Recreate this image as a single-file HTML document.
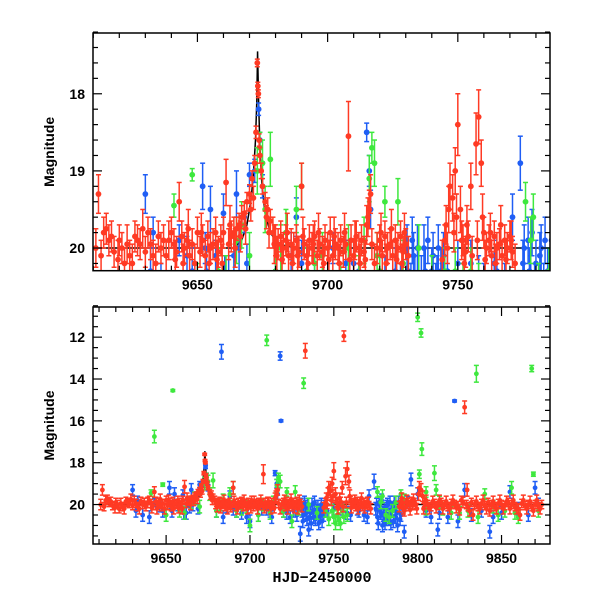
<!DOCTYPE html>
<html><head><meta charset="utf-8"><style>
html,body{margin:0;padding:0;background:#fff}
svg{display:block}
text{font-family:"Liberation Sans",Helvetica,sans-serif;font-weight:bold;font-size:14px;fill:#000}
</style></head><body>
<svg id="chart" width="600" height="600" viewBox="0 0 600 600" xmlns="http://www.w3.org/2000/svg">
<defs>
<clipPath id="clipTop"><rect x="93" y="33" width="457" height="237.7"/></clipPath>
<clipPath id="clipBot"><rect x="93" y="307" width="457" height="237"/></clipPath>
</defs>
<g id="top"></g>
<g id="bot"></g>
<text x="322" y="582" text-anchor="middle" style="font-family:'Liberation Mono',monospace;font-size:15px">HJD−2450000</text>
</svg>
<script>
const redT=[9611,9612,9613,9614,9615,9616,9617,9618,9620,9621,9622,9624,9626,9627,9628,9630,9631,9632,9633,9635,9636,9637,9638,9640,9641,9642,9643,9644,9645,9646,9647,9648,9650,9651,9652,9653,9654,9655,9656,9657,9658,9659,9660,9661,9662,9663,9664,9665,9666,9667,9668,9669,9670,9671,9672,9672.5,9673,9673.2,9673.4,9673.7,9674,9674.5,9675,9676,9677,9678,9679,9680,9681,9682,9683,9684,9685,9686,9687,9688,9689,9690,9691,9692,9693,9694,9695,9696,9697,9698,9699,9700,9701,9702,9703,9704,9705,9706,9707,9708,9709,9710,9711,9712,9713,9714,9715,9716,9717,9719,9720,9721,9722,9723,9724,9725,9726,9727,9728,9729,9730,9733,9745,9746,9747,9748,9749,9750,9751,9752,9753,9754,9755,9756,9757,9758,9759,9760,9761,9762,9763,9764,9765,9766,9767,9768,9769,9770,9771,9790,9791,9792,9793,9794,9795,9796,9797,9798,9799,9801,9803,9804,9806,9808,9810,9812,9814,9816,9818,9820,9822,9824,9826,9828,9829,9830,9832,9834,9836,9838,9840,9842,9844,9846,9848,9850,9852,9854,9856,9858,9860,9862,9864,9866,9868,9870,9872,9874];
const redM=[20.0,19.3,20.1,19.8,19.75,19.9,19.85,20.05,19.9,20.0,20.2,20.1,19.85,19.9,19.95,20.05,19.8,19.95,20.1,19.85,20.0,19.9,20.1,19.8,19.95,20.05,19.4,19.85,20.0,19.9,20.1,19.95,19.8,20.05,19.9,20.1,19.85,20.0,19.95,19.8,20.05,19.9,19.8,19.15,19.95,19.85,19.8,19.75,19.7,19.6,19.55,19.4,19.3,19.1,18.9,18.5,17.6,17.9,18.0,18.6,18.8,19.0,19.2,19.4,19.5,19.65,19.8,19.9,19.95,19.85,20.0,19.9,20.1,19.95,20.0,19.9,20.05,19.2,19.95,20.1,19.9,20.0,19.85,20.1,19.95,20.05,19.9,20.0,19.8,20.1,19.95,20.0,19.9,20.05,19.95,18.55,19.9,20.1,19.85,20.0,19.9,20.05,19.7,19.5,19.95,20.0,19.9,20.1,19.85,20.0,19.95,20.1,19.9,20.0,19.85,20.05,19.95,12.65,19.9,20.0,19.2,19.35,19.0,18.4,19.5,19.9,20.05,19.85,19.2,11.95,18.65,18.3,18.9,19.8,20.0,19.9,20.1,19.85,20.0,19.95,20.1,19.9,20.0,19.85,20.05,20.0,19.9,20.3,20.1,19.9,20.0,19.85,20.05,19.9,20.0,19.2,19.6,19.9,20.0,20.1,19.95,20.05,19.9,20.0,20.1,19.95,20.0,20.05,19.8,15.35,20.0,20.1,19.9,20.0,20.1,19.95,20.05,19.9,20.0,20.1,19.95,20.0,20.05,19.9,20.0,20.1,20.2,19.95,20.05,20.0,20.1,20.0,20.1,20.0];
const redE=[0.25,0.25,0.2,0.2,0.2,0.2,0.2,0.2,0.2,0.2,0.2,0.2,0.2,0.2,0.2,0.2,0.2,0.2,0.2,0.2,0.2,0.2,0.2,0.2,0.2,0.2,0.25,0.2,0.2,0.2,0.2,0.2,0.2,0.2,0.2,0.2,0.2,0.2,0.2,0.2,0.2,0.2,0.2,0.3,0.2,0.2,0.2,0.15,0.15,0.15,0.15,0.12,0.12,0.1,0.1,0.08,0.05,0.05,0.05,0.08,0.1,0.1,0.1,0.12,0.15,0.15,0.2,0.2,0.2,0.2,0.2,0.2,0.2,0.2,0.2,0.2,0.2,0.3,0.2,0.2,0.2,0.2,0.2,0.2,0.2,0.2,0.2,0.2,0.2,0.2,0.2,0.2,0.2,0.2,0.2,0.45,0.2,0.2,0.2,0.2,0.2,0.2,0.25,0.25,0.2,0.2,0.2,0.2,0.2,0.2,0.2,0.2,0.2,0.2,0.2,0.2,0.2,0.35,0.2,0.2,0.3,0.3,0.3,0.4,0.3,0.2,0.2,0.2,0.3,0.25,0.4,0.35,0.3,0.2,0.2,0.2,0.2,0.2,0.2,0.2,0.2,0.2,0.2,0.2,0.2,0.2,0.2,0.25,0.2,0.2,0.2,0.2,0.2,0.2,0.2,0.3,0.25,0.2,0.2,0.2,0.2,0.2,0.2,0.2,0.2,0.2,0.2,0.2,0.2,0.3,0.2,0.2,0.2,0.2,0.2,0.2,0.2,0.2,0.2,0.2,0.2,0.2,0.2,0.2,0.2,0.2,0.2,0.2,0.2,0.2,0.2,0.2,0.2,0.2];
const red2T=[9619.5,9623,9625,9629,9634,9639,9641.5,9644.5,9646.5,9649,9651.5,9654.5,9657.5,9659.5,9662.5,9664.5,9666.5,9668.5,9670.5,9671.5,9676.5,9677.5,9679.5,9680.5,9682.5,9684.5,9686.5,9688.5,9690.5,9692.5,9694.5,9696.5,9698.5,9700.5,9702.5,9704.5,9706.5,9708.5,9710.5,9712.5,9714.5,9715.5,9716.5,9718,9720.5,9722.5,9724.5,9726.5,9728.5,9729.5,9731,9744,9745.5,9746.5,9748.5,9749.5,9751.5,9752.5,9753.5,9755.5,9757.5,9759.5,9760.5,9762.5,9764.5,9766.5,9768.5,9770.5,9772,9789,9790.5,9791.5,9793.5,9795.5,9797.5,9799.5,9800.5,9802,9803.5,9805,9807,9809,9811,9813,9815,9817,9819,9821,9823,9825,9827,9829.5,9831,9833,9835,9837,9839,9841,9843,9845,9847,9849,9851,9853,9855,9857,9859,9861,9863,9865,9867,9869,9871,9873];
const red2M=[20.15,19.95,20.2,19.75,20.2,19.9,20.15,20.2,19.75,20.2,19.8,20.2,20.15,20.2,19.7,20.0,19.85,19.75,19.5,19.35,19.6,19.8,19.95,20.1,20.15,19.8,20.2,20.1,19.85,20.2,19.95,19.8,20.2,20.15,19.85,20.2,19.8,20.15,19.9,20.2,20.15,19.6,19.3,20.2,19.8,20.2,19.75,20.15,20.2,19.8,20.1,20.15,19.7,19.5,19.8,19.6,19.9,20.2,19.7,20.1,19.9,19.6,20.15,19.8,20.2,19.7,20.15,19.9,20.2,20.1,19.7,20.2,19.8,20.25,19.75,20.2,19.5,19.3,20.2,19.8,20.2,19.85,20.15,19.8,20.2,19.85,20.2,19.8,20.15,20.25,19.9,19.3,20.3,20.5,19.85,20.2,19.8,20.2,20.3,19.85,20.2,19.8,20.2,19.85,20.2,19.8,20.2,20.5,19.8,20.2,19.85,20.3,19.8,20.2];
const red2E=[0.25,0.25,0.25,0.25,0.25,0.25,0.25,0.25,0.25,0.25,0.25,0.25,0.25,0.25,0.25,0.25,0.2,0.2,0.15,0.15,0.15,0.2,0.25,0.25,0.25,0.25,0.25,0.25,0.25,0.25,0.25,0.25,0.25,0.25,0.25,0.25,0.25,0.25,0.25,0.25,0.25,0.25,0.25,0.25,0.25,0.25,0.25,0.25,0.25,0.25,0.25,0.25,0.25,0.3,0.25,0.3,0.25,0.25,0.25,0.25,0.25,0.3,0.25,0.25,0.25,0.25,0.25,0.25,0.25,0.25,0.25,0.25,0.25,0.25,0.25,0.25,0.3,0.3,0.25,0.25,0.25,0.25,0.25,0.25,0.25,0.25,0.25,0.25,0.25,0.25,0.25,0.3,0.25,0.25,0.25,0.25,0.25,0.25,0.25,0.25,0.25,0.25,0.25,0.25,0.25,0.25,0.25,0.25,0.25,0.25,0.25,0.25,0.25,0.25];
const blueT=[9630,9632,9633,9636,9640,9643,9646,9648,9652,9653,9655,9657,9660,9662,9665,9668,9669,9670,9672,9673.5,9674,9675,9680,9683,9684,9688,9690,9695,9700,9702,9705,9710,9713,9715,9716,9718,9718.5,9720,9724,9728,9730,9731,9732,9733,9734,9735,9736,9737,9738,9740,9742,9744,9755,9760,9765,9770,9774,9775,9776,9777,9778,9779,9780,9781,9782,9783,9784,9785,9786,9787,9788,9790,9792,9794,9796,9800,9805,9808,9812,9813,9818,9822,9824,9828,9832,9838,9843,9845,9850,9855,9860,9866,9870,9872];
const blueM=[19.3,20.3,19.8,20.5,20.6,19.9,20.1,20.3,19.2,20.0,19.5,20.1,19.55,20.4,19.3,19.6,20.2,19.05,19.0,18.2,18.6,19.2,20.3,12.7,20.6,19.6,20.2,20.4,20.8,20.0,20.5,20.2,20.6,18.5,19.0,12.9,16.0,20.3,20.6,20.5,21.4,20.3,20.5,20.1,20.7,21.2,20.4,20.0,20.6,20.3,20.4,20.5,20.2,20.5,20.3,20.6,18.9,20.2,20.6,19.9,20.4,21.0,20.2,20.7,20.0,20.5,20.9,20.3,19.9,20.6,21.0,20.5,21.3,19.9,18.8,19.5,20.3,20.6,21.2,20.4,20.6,15.05,20.8,19.3,20.5,20.3,21.3,20.6,20.4,19.4,20.2,20.5,19.2,20.0];
const blueE=[0.25,0.3,0.2,0.3,0.3,0.2,0.25,0.3,0.3,0.2,0.3,0.2,0.25,0.3,0.3,0.2,0.25,0.15,0.15,0.08,0.1,0.15,0.3,0.35,0.3,0.25,0.3,0.3,0.3,0.2,0.3,0.3,0.3,0.12,0.2,0.2,0.05,0.3,0.3,0.3,0.35,0.3,0.3,0.3,0.3,0.3,0.3,0.3,0.3,0.3,0.3,0.3,0.3,0.3,0.3,0.3,0.35,0.3,0.3,0.3,0.3,0.3,0.3,0.3,0.3,0.3,0.3,0.3,0.3,0.3,0.3,0.3,0.3,0.3,0.3,0.3,0.3,0.3,0.3,0.3,0.3,0.05,0.3,0.3,0.3,0.3,0.3,0.3,0.3,0.3,0.3,0.3,0.3,0.3];
const blue2T=[9730.5,9731.5,9732.5,9733.5,9734.5,9735.5,9736.5,9737.5,9738.5,9739,9740.5,9741,9741.5,9742.5,9743,9743.5,9744.5,9775.5,9776.5,9777.5,9778.5,9779.5,9780.5,9781.5,9782.5,9783.5,9784.5,9785.5,9786.5,9787.5,9788.5,9789.5,9653.5,9660.5,9664,9666,9686,9692,9698,9707,9712,9716.5,9722,9726,9746,9750,9758,9764,9768,9771];
const blue2M=[20.0,20.8,19.9,20.4,20.0,20.6,20.9,20.3,19.9,20.7,20.1,20.9,20.5,20.0,20.8,20.3,20.1,20.0,20.9,20.3,19.8,20.5,20.9,20.1,20.7,19.9,20.3,20.8,20.2,20.4,19.9,20.7,20.3,20.4,20.1,20.0,20.1,20.3,20.6,20.2,20.3,19.5,20.4,20.3,20.3,20.2,20.4,20.2,20.5,19.6];
const blue2E=[0.3,0.3,0.3,0.3,0.3,0.3,0.3,0.3,0.3,0.3,0.3,0.3,0.3,0.3,0.3,0.3,0.3,0.3,0.3,0.3,0.3,0.3,0.3,0.3,0.3,0.3,0.3,0.3,0.3,0.3,0.3,0.3,0.3,0.3,0.3,0.3,0.3,0.3,0.3,0.3,0.3,0.25,0.3,0.3,0.3,0.3,0.3,0.3,0.3,0.3];
const greenT=[9641,9643,9648,9650,9654,9658,9667,9670,9673,9674,9675,9678,9680,9688,9690,9695,9700,9705,9710,9712,9716,9717,9719,9722,9725,9732,9735,9745,9750,9752,9753,9755,9776,9778,9781,9790,9800,9801,9802,9802.5,9805,9810,9811,9815,9820,9835,9836,9840,9848,9856,9858,9868,9869,9872];
const greenM=[19.45,16.75,19.05,20.5,14.55,20.3,19.7,20.1,19.0,18.7,18.9,18.85,20.3,19.5,19.2,20.2,21.0,20.5,12.15,20.4,19.1,18.7,20.1,19.4,20.8,14.2,20.0,20.3,20.6,20.5,20.7,20.3,19.4,19.9,20.5,19.5,11.05,18.55,11.8,17.35,19.4,18.5,19.3,20.2,20.4,13.75,20.6,19.5,20.5,19.2,20.4,13.5,18.55,20.3];
const greenE=[0.15,0.3,0.08,0.3,0.05,0.3,0.3,0.3,0.3,0.2,0.3,0.35,0.3,0.3,0.3,0.3,0.3,0.3,0.25,0.3,0.3,0.2,0.3,0.2,0.3,0.25,0.3,0.3,0.3,0.3,0.3,0.3,0.25,0.3,0.3,0.2,0.2,0.2,0.2,0.3,0.25,0.35,0.25,0.3,0.3,0.4,0.3,0.25,0.3,0.3,0.3,0.15,0.1,0.3];
const green2T=[9661,9665,9676,9682,9684,9692,9698,9708,9714,9718,9720,9727,9729,9740,9747,9749,9751,9754,9756,9758,9779,9783,9785,9787,9792,9805,9813,9825,9830,9845,9852,9860];
const green2M=[20.4,19.9,19.5,20.0,19.8,20.3,20.1,20.0,19.9,18.9,20.3,19.4,20.2,20.4,20.7,20.3,20.9,20.9,20.6,20.5,19.6,20.6,20.3,19.9,19.8,20.2,19.9,20.4,20.3,20.1,20.3,20.6];
const green2E=[0.3,0.3,0.3,0.3,0.3,0.3,0.3,0.3,0.3,0.3,0.3,0.3,0.3,0.3,0.3,0.3,0.3,0.3,0.3,0.3,0.3,0.3,0.3,0.3,0.3,0.3,0.3,0.3,0.3,0.3,0.3,0.3];
const modelT=[9610,9664,9667,9669,9670.5,9671.5,9672.3,9672.8,9673.1,9673.5,9674,9674.8,9676,9678,9681,9688,9880];
const modelM=[20.0,20.0,19.9,19.7,19.4,19.05,18.6,18.1,17.45,18.1,18.7,19.2,19.55,19.8,19.95,20.0,20.0];
const topXTicks=[9650,9700,9750];
const topYTicks=[18,19,20];
const botXTicks=[9650,9700,9750,9800,9850];
const botYTicks=[12,14,16,18,20];

const NS="http://www.w3.org/2000/svg";
function mk(tag,attrs,parent){const e=document.createElementNS(NS,tag);for(const k in attrs)e.setAttribute(k,attrs[k]);parent.appendChild(e);return e;}
function lin(d0,d1,r0,r1){return v=>r0+(v-d0)/(d1-d0)*(r1-r0);}

const panels=[
 {g:document.getElementById('top'),clip:'clipTop',L:93,R:550,T:33,B:270.7,x:lin(9609.9,9785.4,93,550),y:lin(17.212,20.294,33,270.7),xt:topXTicks,yt:topYTicks,xminor:10,yminor:0.2,ymin:17.2,ymax:20.3,xmin:9610,xmax:9786,r:2.9,prefix:'top'},
 {g:document.getElementById('bot'),clip:'clipBot',L:93,R:550,T:307,B:544,x:lin(9606.4,9878.9,93,550),y:lin(10.558,21.886,307,544),xt:botXTicks,yt:botYTicks,xminor:10,yminor:0.5,ymin:10.5,ymax:21.9,xmin:9607,xmax:9879,r:2.4,prefix:'bottom'}
];
const series=[
 {name:'blue',T:blueT,M:blueM,E:blueE,c:'#1f5ef5'},
 {name:'blue',T:blue2T,M:blue2M,E:blue2E,c:'#1f5ef5'},
 {name:'green',T:greenT,M:greenM,E:greenE,c:'#3ee83e'},
 {name:'green',T:green2T,M:green2M,E:green2E,c:'#3ee83e'},
 {name:'red',T:red2T,M:red2M,E:red2E,c:'#ff3a24'},
 {name:'red',T:redT,M:redM,E:redE,c:'#ff3a24'}
];
panels.forEach(p=>{
 const dg=mk('g',{'clip-path':'url(#'+p.clip+')'},p.g);
 
 
 let d='';modelT.forEach((t,i)=>{d+=(i?'L':'M')+p.x(t).toFixed(2)+' '+p.y(modelM[i]).toFixed(2);});
 const ml=mk('path',{d:d,fill:'none',stroke:'#000','stroke-width':1.5},dg);
 
 
 series.forEach(s=>{
  const sg=mk('g',{stroke:s.c,fill:s.c,'stroke-width':1.5},dg);
  
  
  s.T.forEach((t,i)=>{
   const cx=p.x(t),cy=p.y(s.M[i]),y1=p.y(s.M[i]-s.E[i]),y2=p.y(s.M[i]+s.E[i]);
   mk('line',{x1:cx,x2:cx,y1:y1,y2:y2},sg);
   mk('line',{x1:cx-2.5,x2:cx+2.5,y1:y1,y2:y1},sg);
   mk('line',{x1:cx-2.5,x2:cx+2.5,y1:y2,y2:y2},sg);
   const c=mk('circle',{cx:cx,cy:cy,r:p.r,stroke:'none'},sg);
   
   
  });
 });
 const fr=mk('rect',{x:p.L,y:p.T,width:p.R-p.L,height:p.B-p.T,fill:'none',stroke:'#000','stroke-width':1.5},p.g);
 
 
 const tg=mk('g',{stroke:'#000','stroke-width':1.2},p.g);
 for(let v=Math.ceil(p.xmin/p.xminor)*p.xminor;v<=p.xmax;v+=p.xminor){
  const X=p.x(v),maj=(v%50===0),len=maj?9:5;
  mk('line',{x1:X,x2:X,y1:p.B,y2:p.B-len},tg);mk('line',{x1:X,x2:X,y1:p.T,y2:p.T+len},tg);
 }
 for(let k=Math.ceil(p.ymin/p.yminor);k*p.yminor<=p.ymax;k++){
  const v=k*p.yminor,Y=p.y(v),maj=Math.abs(v-Math.round(v))<1e-6&&p.yt.includes(Math.round(v)),len=maj?9:5;
  mk('line',{x1:p.L,x2:p.L+len,y1:Y,y2:Y},tg);mk('line',{x1:p.R,x2:p.R-len,y1:Y,y2:Y},tg);
 }
 p.xt.forEach(v=>{const t=mk('text',{x:p.x(v),y:p.B+19,'text-anchor':'middle'},p.g);t.textContent=v;
  });
 p.yt.forEach(v=>{const t=mk('text',{x:p.L-8,y:p.y(v)+5,'text-anchor':'end'},p.g);t.textContent=v;
  });
 const yl=mk('text',{x:0,y:0,'text-anchor':'middle',transform:'translate(54,'+((p.T+p.B)/2)+') rotate(-90)'},p.g);
 yl.textContent='Magnitude';
 
 
});
</script>
</body></html>
